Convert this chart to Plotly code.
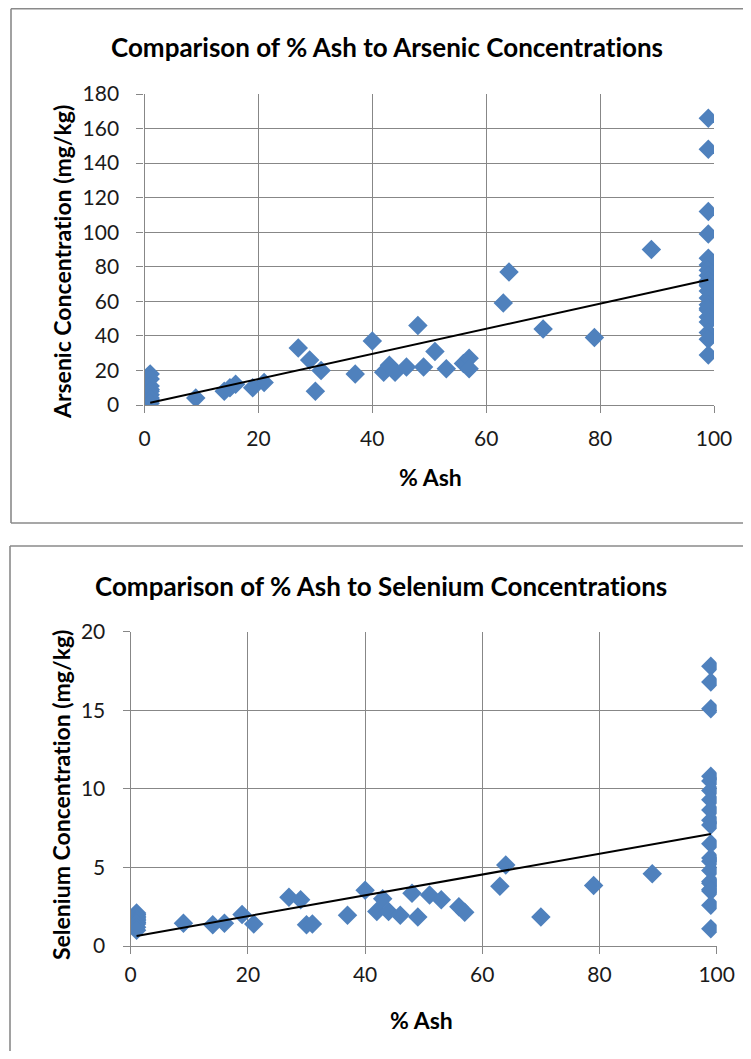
import numpy as np
import plotly.graph_objects as go

# ---- Data: Arsenic ----
as_ash = [1, 1, 1, 1, 1, 1, 1, 1, 1, 9, 14, 15, 16, 19, 21, 27, 29, 30, 31,
          37, 40, 42, 43, 44, 46, 48, 49, 51, 53, 56, 57, 57,
          63, 64, 70, 79, 89,
          99, 99, 99, 99, 99, 99, 99, 99, 99, 99, 99, 99, 99, 99, 99, 99, 99,
          99, 99, 99, 99]
as_conc = [18, 15, 11, 9, 8, 6, 4, 3, 1, 4, 8, 10, 12, 10, 13, 33, 26, 8, 20,
           18, 37, 19, 23, 19, 22, 46, 22, 31, 21, 24, 27, 21,
           59, 77, 44, 39, 90,
           166, 148, 112, 99, 85, 81, 78, 75, 72, 70, 69, 66, 62, 58, 56, 55, 51,
           48, 42, 38, 29]

# ---- Data: Selenium ----
se_ash = [1, 1, 1, 1, 1, 1, 1, 1, 1, 1, 9, 14, 16, 19, 21, 27, 29, 30, 31,
          37, 40, 42, 43, 44, 46, 48, 49, 51, 53, 56, 57,
          63, 64, 70, 79, 89,
          99, 99, 99, 99, 99, 99, 99, 99, 99, 99, 99, 99, 99, 99, 99, 99, 99,
          99, 99, 99]
se_conc = [2.1, 2.0, 1.9, 1.8, 1.7, 1.6, 1.5, 1.4, 1.2, 1.0,
           1.45, 1.35, 1.45, 2.0, 1.4, 3.1, 2.95, 1.35, 1.4,
           1.95, 3.55, 2.2, 3.0, 2.2, 1.95, 3.35, 1.85, 3.25, 2.95, 2.5, 2.15,
           3.8, 5.15, 1.85, 3.85, 4.6,
           17.8, 16.8, 15.1, 10.8, 10.5, 9.9, 9.3, 8.65, 8.0, 7.7, 6.5, 5.6, 5.4,
           4.8, 4.1, 4.0, 3.6, 3.5, 2.6, 1.1]

x_ticks = [0, 20, 40, 60, 80, 100]
as_ticks = [0, 20, 40, 60, 80, 100, 120, 140, 160, 180]
se_ticks = [0, 5, 10, 15, 20]

PAGE_OFF = 8            # default body margin of the html page
W, H = 751 - PAGE_OFF, 1059 - 2 * PAGE_OFF
FONT = "Lato"
BLUE = "#4F81BD"
GRID = "#878787"
BORDER = "#8a8a8a"
ZW = "\u200c"


def nolig(s):
    return s.replace("ti", "t" + ZW + "i").replace("fi", "f" + ZW + "i")


def trend(x, y):
    m, b = np.polyfit(np.array(x, float), np.array(y, float), 1)
    xs = np.array([min(x), max(x)], float)
    return xs, m * xs + b


def fx(p):
    return (p - PAGE_OFF) / W


def fy(p):
    return 1 - (p - PAGE_OFF) / H


fig = go.Figure()

fig.add_trace(go.Scatter(x=as_ash, y=as_conc, mode="markers",
                         marker=dict(symbol="diamond", size=15, color=BLUE),
                         xaxis="x", yaxis="y", showlegend=False))
tx, ty = trend(as_ash, as_conc)
fig.add_trace(go.Scatter(x=tx, y=ty, mode="lines", line=dict(color="black", width=2),
                         xaxis="x", yaxis="y", showlegend=False))

fig.add_trace(go.Scatter(x=se_ash, y=se_conc, mode="markers",
                         marker=dict(symbol="diamond", size=15, color=BLUE),
                         xaxis="x2", yaxis="y2", showlegend=False))
tx2, ty2 = trend(se_ash, se_conc)
fig.add_trace(go.Scatter(x=tx2, y=ty2, mode="lines", line=dict(color="black", width=2),
                         xaxis="x2", yaxis="y2", showlegend=False))

axis_common = dict(showgrid=True, gridcolor=GRID, gridwidth=1.4, zeroline=False,
                   showline=True, linecolor=GRID, linewidth=1.4, automargin=False,
                   ticks="outside", ticklen=7, tickcolor=GRID, tickwidth=1.4,
                   tickfont=dict(family=FONT, size=21, color="#1a1a1a"))

fig.update_layout(
    width=W, height=H, margin=dict(l=0, r=0, t=0, b=0, pad=0, autoexpand=False),
    paper_bgcolor="white", plot_bgcolor="white",
    xaxis=dict(domain=[fx(144.5), fx(714)], range=[0, 100], tickvals=x_ticks,
               anchor="y", ticklabelstandoff=8, **axis_common),
    yaxis=dict(domain=[fy(405), fy(94)], range=[0, 180], tickvals=as_ticks,
               anchor="x", ticklabelstandoff=13, **axis_common),
    xaxis2=dict(domain=[fx(130.7), fx(716.7)], range=[0, 100], tickvals=x_ticks,
                anchor="y2", ticklabelstandoff=3, **axis_common),
    yaxis2=dict(domain=[fy(946), fy(631.7)], range=[0, 20], tickvals=se_ticks,
                anchor="x2", ticklabelstandoff=13, **axis_common),
)


# chart borders (open on the right, as the charts run off the page)
def hline(x0, x1, y):
    fig.add_shape(type="line", xref="paper", yref="paper", x0=fx(x0), x1=fx(x1),
                  y0=fy(y), y1=fy(y), line=dict(color=BORDER, width=1.6), layer="below")


def vline(x, y0, y1):
    fig.add_shape(type="line", xref="paper", yref="paper", x0=fx(x), x1=fx(x),
                  y0=fy(y0), y1=fy(y1), line=dict(color=BORDER, width=1.6), layer="below")


hline(11, 760, 8.8)
hline(11, 760, 523)
vline(11, 8.8, 523)
hline(10, 760, 546)
vline(10, 546, 1070)

ann = []


def text(t, x, y, size, angle=0):
    ann.append(dict(text="<b>" + nolig(t) + "</b>", x=fx(x), y=fy(y),
                    xref="paper", yref="paper", showarrow=False, textangle=angle,
                    xanchor="center", yanchor="middle",
                    font=dict(family=FONT, size=size, color="black")))


text("Comparison of % Ash to Arsenic Concentrations", 387, 47, 26)
text("% Ash", 430, 477, 23)
text("Arsenic Concentration (mg/kg)", 62, 262, 23, angle=-90)
text("Comparison of % Ash to Selenium Concentrations", 381, 586, 26)
text("% Ash", 421, 1020, 23)
text("Selenium Concentration (mg/kg)", 61, 795, 23, angle=-90)
fig.update_layout(annotations=ann)

fig.write_html("out.html")
